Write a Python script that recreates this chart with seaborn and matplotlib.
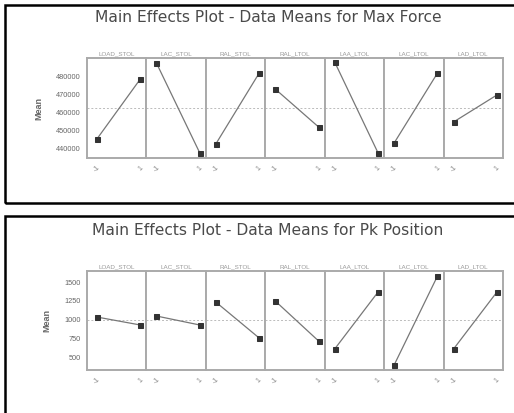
import matplotlib
matplotlib.use("Agg")
import matplotlib.pyplot as plt
from matplotlib.patches import Rectangle
import pandas as pd
import seaborn as sns

sns.set_style("white")
plt.rcParams["font.family"] = ["Liberation Sans", "DejaVu Sans"]

factors = ["LOAD_STOL", "LAC_STOL", "RAL_STOL", "RAL_LTOL", "LAA_LTOL", "LAC_LTOL", "LAD_LTOL"]
levels = ["-1", "1"]

# Means of Max Force at low / high level of each factor
force_low = [445600, 487800, 442800, 473300, 488300, 443300, 455000]
force_high = [478900, 437800, 482200, 452200, 437800, 482200, 470000]
force_mean = 462700
force_ticks = [440000, 450000, 460000, 470000, 480000]

# Means of Pk Position at low / high level of each factor
pos_low = [1033, 1047, 1233, 1247, 607, 393, 607]
pos_high = [927, 927, 753, 713, 1367, 1580, 1367]
pos_mean = 990
pos_ticks = [500, 750, 1000, 1250, 1500]

W, H = 514, 413
fig = plt.figure(figsize=(W / 100, H / 100), dpi=100)


def px_rect(x0, y0, x1, y1):
    return [x0 / W, 1 - y1 / H, (x1 - x0) / W, (y1 - y0) / H]


# panel frames
for (x0, y0, x1, y1) in [(5, 5, 530, 203), (5, 216, 530, 430)]:
    fig.patches.append(Rectangle((x0 / W, 1 - y1 / H), (x1 - x0) / W, (y1 - y0) / H,
                                 transform=fig.transFigure, fill=False,
                                 edgecolor="black", linewidth=1.8))


def draw_panel(title, title_y, top, bottom, lows, highs, mean, ticks, ylim):
    fig.text(268 / W, 1 - title_y / H, title, ha="center", va="center",
             fontsize=11.2, color="#4a4a4a", family="DejaVu Sans")
    x0, x1 = 87, 503
    w = (x1 - x0) / len(factors)
    for i, name in enumerate(factors):
        ax = fig.add_axes(px_rect(x0 + i * w, top, x0 + (i + 1) * w, bottom))
        df = pd.DataFrame({"level": [0, 1], "mean": [lows[i], highs[i]]})
        ax.axhline(mean, color="#bbbbbb", linestyle=(0, (2, 2)), linewidth=0.7, zorder=1)
        sns.lineplot(data=df, x="level", y="mean", ax=ax, color="#777777",
                     linewidth=0.9, marker="s", markersize=3.6,
                     markerfacecolor="#333333", markeredgecolor="#333333", zorder=3)
        ax.set_xlim(-0.23, 1.14)
        ax.set_ylim(*ylim)
        ax.set_xticks([0, 1])
        ax.set_xticklabels(levels, rotation=45, fontsize=5, color="#888888")
        ax.set_xlabel("")
        ax.set_ylabel("")
        ax.set_title(name, fontsize=4.5, color="#999999", pad=2)
        ax.tick_params(axis="both", length=2.5, width=0.6, color="#999999", pad=2)
        if i == 0:
            ax.set_yticks(ticks)
            ax.set_yticklabels([str(t) for t in ticks], fontsize=5.3, color="#666666")
            ax.set_ylabel("Mean", fontsize=6.5, color="#666666", labelpad=9,
                          fontweight="bold")
        else:
            ax.set_yticks([])
        for s in ax.spines.values():
            s.set_color("#aaaaaa")
            s.set_linewidth(1.4)


draw_panel("Main Effects Plot - Data Means for Max Force", 17, 58, 158,
           force_low, force_high, force_mean, force_ticks, (435000, 490550))
draw_panel("Main Effects Plot - Data Means for Pk Position", 230, 271, 370,
           pos_low, pos_high, pos_mean, pos_ticks, (327, 1647))

fig.savefig("out.png", dpi=100, facecolor="white")
